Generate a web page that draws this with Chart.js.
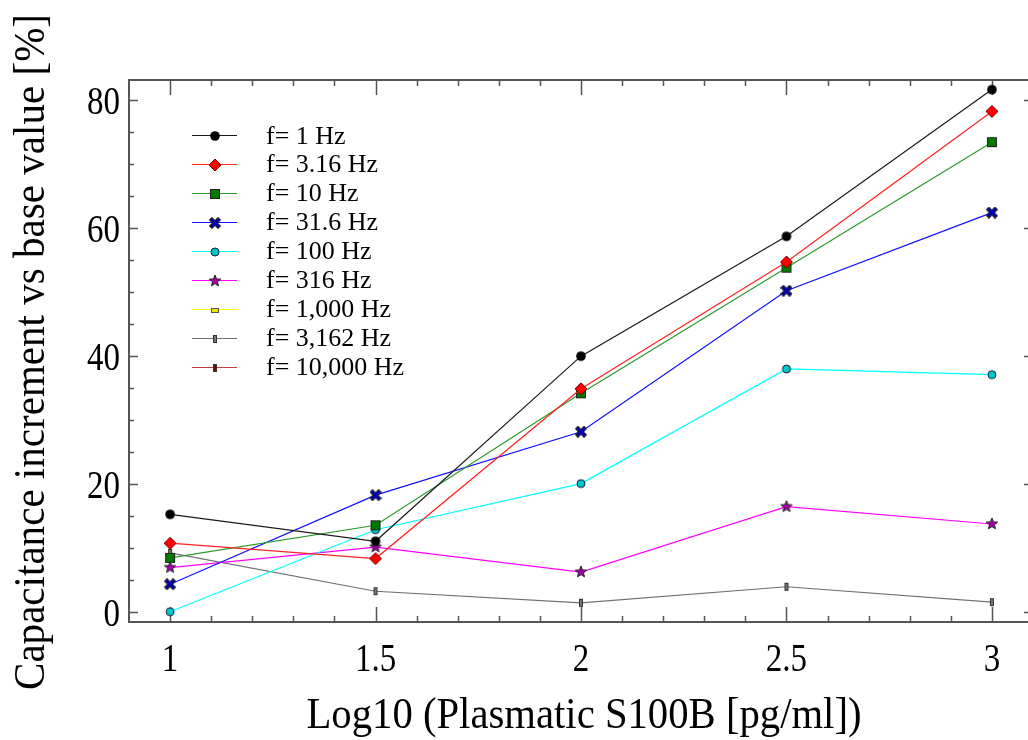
<!DOCTYPE html>
<html>
<head>
<meta charset="utf-8">
<script src="https://cdn.jsdelivr.net/npm/chart.js@4.4.0/dist/chart.umd.min.js"></script>
<style>
  html, body { margin: 0; padding: 0; background: #fff; overflow: hidden; }
  #wrap { width: 1040px; height: 740px; }
</style>
</head>
<body>
<div id="wrap"><canvas id="chart" width="1040" height="740"></canvas></div>
<script>
// x positions (log10 of S100B concentration)
const xValues = [1, 1.5, 2, 2.5, 3];

const seriesLabels = ['f= 1 Hz', 'f= 3.16 Hz', 'f= 10 Hz', 'f= 31.6 Hz', 'f= 100 Hz',
  'f= 316 Hz', 'f= 1,000 Hz', 'f= 3,162 Hz', 'f= 10,000 Hz'];

// capacitance increment [%]
const f1 = [15.3, 11.1, 40.0, 58.7, 81.6];
const f3_16 = [10.8, 8.4, 34.9, 54.7, 78.2];
const f10 = [8.5, 13.6, 34.2, 53.8, 73.4];
const f31_6 = [4.4, 18.3, 28.2, 50.2, 62.4];
const f100 = [0.1, 12.9, 20.1, 38.0, 37.1];
const f316 = [7.0, 10.2, 6.3, 16.5, 13.8];
const f1000 = [null, null, null, null, null];   // not visible in the plot
const f3162 = [9.3, 3.3, 1.5, 4.0, 1.6];
const f10000 = [null, null, null, null, null];  // not visible in the plot

const xTickValues = [1, 1.5, 2, 2.5, 3];
const xTickLabels = ['1', '1.5', '2', '2.5', '3'];
const yTickValues = [0, 20, 40, 60, 80];
const yTickLabels = ['0', '20', '40', '60', '80'];

const lineColors = ['#1a1a1a', '#ff2020', '#2a9a2a', '#1010ff', '#00ffff', '#ff00ff', '#ffff00', '#707070', '#c04040'];

// small canvases used as point markers
function marker(size, draw) {
  const c = document.createElement('canvas');
  c.width = size; c.height = size;
  const g = c.getContext('2d');
  draw(g, size / 2);
  return c;
}

const markers = [
  marker(12, (g, m) => { g.fillStyle = '#000'; g.beginPath(); g.arc(m, m, 4.8, 0, Math.PI * 2); g.fill(); }),
  marker(14, (g, m) => {
    g.fillStyle = '#ff0000'; g.strokeStyle = '#700'; g.lineWidth = 1;
    g.beginPath(); g.moveTo(m, 1); g.lineTo(13, m); g.lineTo(m, 13); g.lineTo(1, m); g.closePath();
    g.fill(); g.stroke();
  }),
  marker(12, (g, m) => {
    g.fillStyle = '#007a00'; g.strokeStyle = '#222'; g.lineWidth = 1;
    g.fillRect(1.5, 1.5, 9, 9); g.strokeRect(1.5, 1.5, 9, 9);
  }),
  marker(12, (g, m) => {
    g.lineCap = 'square';
    g.strokeStyle = '#222'; g.lineWidth = 4.5;
    g.beginPath(); g.moveTo(3, 3); g.lineTo(9, 9); g.moveTo(9, 3); g.lineTo(3, 9); g.stroke();
    g.strokeStyle = '#0000b0'; g.lineWidth = 2.5;
    g.beginPath(); g.moveTo(3, 3); g.lineTo(9, 9); g.moveTo(9, 3); g.lineTo(3, 9); g.stroke();
  }),
  marker(12, (g, m) => {
    g.fillStyle = '#00c8c8'; g.strokeStyle = '#124'; g.lineWidth = 1;
    g.beginPath(); g.arc(m, m, 4, 0, Math.PI * 2); g.fill(); g.stroke();
  }),
  marker(14, (g, m) => {
    g.fillStyle = '#a000a0'; g.strokeStyle = '#222'; g.lineWidth = 1;
    g.beginPath();
    for (let i = 0; i < 10; i++) {
      const r = i % 2 === 0 ? 6 : 2.6;
      const a = -Math.PI / 2 + i * Math.PI / 5;
      const px = m + r * Math.cos(a), py = m + r * Math.sin(a);
      if (i === 0) g.moveTo(px, py); else g.lineTo(px, py);
    }
    g.closePath(); g.fill(); g.stroke();
  }),
  marker(10, (g, m) => {
    g.fillStyle = '#e8e800'; g.strokeStyle = '#555'; g.lineWidth = 1;
    g.fillRect(1.5, 3.5, 7, 4); g.strokeRect(1.5, 3.5, 7, 4);
  }),
  marker(10, (g, m) => {
    g.fillStyle = '#777'; g.strokeStyle = '#333'; g.lineWidth = 1;
    g.fillRect(3.5, 1.5, 3, 7); g.strokeRect(3.5, 1.5, 3, 7);
  }),
  marker(10, (g, m) => {
    g.fillStyle = '#800000'; g.strokeStyle = '#333'; g.lineWidth = 1;
    g.fillRect(3.5, 1.5, 3, 7); g.strokeRect(3.5, 1.5, 3, 7);
  })
];

const allSeries = [f1, f3_16, f10, f31_6, f100, f316, f1000, f3162, f10000];

const datasets = allSeries.map((vals, i) => ({
  label: seriesLabels[i],
  data: xValues.map((x, k) => ({ x: x, y: vals[k] })),
  borderColor: lineColors[i],
  backgroundColor: lineColors[i],
  borderWidth: 1.2,
  pointStyle: markers[i],
  pointRadius: 5,
  tension: 0
}));

// draw text squeezed horizontally like the original figure
function squeezed(ctx, text, x, y, align, sx) {
  ctx.save();
  ctx.translate(x, y);
  ctx.scale(sx, 1);
  ctx.textAlign = align;
  ctx.fillText(text, 0, 0);
  ctx.restore();
}

const SERIF = '"Liberation Serif", "Times New Roman", serif';

const framePlugin = {
  id: 'frame',
  beforeDatasetsDraw(chart) {
    const ctx = chart.ctx;
    const a = chart.chartArea;
    const xs = chart.scales.x, ys = chart.scales.y;
    ctx.save();
    ctx.strokeStyle = '#555';
    ctx.lineWidth = 1.5;
    // inward tick marks on all four sides
    for (let i = 10; i <= 30; i++) {
      const v = i / 10;
      const major = xTickValues.some(t => Math.abs(t - v) < 1e-6);
      const len = major ? 15 : 6;
      const px = Math.round(xs.getPixelForValue(v)) + 0.5;
      ctx.beginPath();
      ctx.moveTo(px, a.bottom); ctx.lineTo(px, a.bottom - len);
      ctx.moveTo(px, a.top); ctx.lineTo(px, a.top + len);
      ctx.stroke();
    }
    for (let v = 0; v <= 80; v += 5) {
      const major = yTickValues.includes(v);
      const len = major ? 9 : 5;
      const py = Math.round(ys.getPixelForValue(v)) + 0.5;
      ctx.beginPath();
      ctx.moveTo(a.left, py); ctx.lineTo(a.left + len, py);
      ctx.moveTo(a.right, py); ctx.lineTo(a.right - len, py);
      ctx.stroke();
    }
    ctx.lineWidth = 2;
    ctx.strokeRect(a.left, a.top, a.right - a.left, a.bottom - a.top);
    ctx.restore();
  },
  afterDraw(chart) {
    const ctx = chart.ctx;
    const a = chart.chartArea;
    const xs = chart.scales.x, ys = chart.scales.y;
    ctx.save();
    ctx.fillStyle = '#000';
    ctx.textBaseline = 'alphabetic';

    // tick labels
    ctx.font = '40px ' + SERIF;
    const tsx = 33 / ctx.measureText('80').width;
    xTickValues.forEach((v, i) => {
      squeezed(ctx, xTickLabels[i], xs.getPixelForValue(v), 671, 'center', tsx);
    });
    yTickValues.forEach((v, i) => {
      squeezed(ctx, yTickLabels[i], 120, ys.getPixelForValue(v) + 14, 'right', tsx);
    });

    // axis titles
    ctx.font = '45px ' + SERIF;
    const xTitle = 'Log10 (Plasmatic S100B [pg/ml])';
    squeezed(ctx, xTitle, (a.left + a.right) / 2 + 3, 728, 'center', 555 / ctx.measureText(xTitle).width);
    const yTitle = 'Capacitance increment vs base value [%]';
    ctx.save();
    ctx.translate(44, 352);
    ctx.rotate(-Math.PI / 2);
    squeezed(ctx, yTitle, 0, 0, 'center', 676 / ctx.measureText(yTitle).width);
    ctx.restore();

    // legend inside the plot
    ctx.font = '26px ' + SERIF;
    const lsx = 138 / ctx.measureText('f= 10,000 Hz').width;
    seriesLabels.forEach((lab, i) => {
      const y = 135 + i * 28.96;
      const ly = Math.round(y) + 0.5;
      ctx.strokeStyle = lineColors[i];
      ctx.lineWidth = 1.2;
      ctx.beginPath(); ctx.moveTo(192, ly); ctx.lineTo(237, ly); ctx.stroke();
      const mk = markers[i];
      ctx.drawImage(mk, Math.round(214.5 - mk.width / 2), Math.round(ly - mk.height / 2));
      squeezed(ctx, lab, 266, y + 8.5, 'left', lsx);
    });
    ctx.restore();
  }
};

new Chart(document.getElementById('chart'), {
  type: 'line',
  data: { datasets: datasets },
  options: {
    responsive: false,
    animation: false,
    layout: { padding: { top: 80, right: 7, left: 0, bottom: 0 } },
    plugins: { legend: { display: false }, tooltip: { enabled: false } },
    scales: {
      x: {
        type: 'linear', min: 0.9, max: 3.1,
        grid: { display: false, drawTicks: false },
        border: { display: false },
        ticks: { display: false },
        afterBuildTicks: s => { s.ticks = xTickValues.map(v => ({ value: v })); },
        afterFit: s => { s.height = 118; }
      },
      y: {
        type: 'linear', min: -1.5, max: 83.1,
        grid: { display: false, drawTicks: false },
        border: { display: false },
        ticks: { display: false },
        afterBuildTicks: s => { s.ticks = yTickValues.map(v => ({ value: v })); },
        afterFit: s => { s.width = 129; }
      }
    }
  },
  plugins: [framePlugin]
});
</script>
</body>
</html>
